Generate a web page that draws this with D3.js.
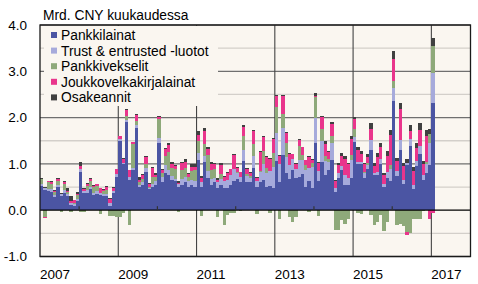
<!DOCTYPE html>
<html>
<head>
<meta charset="utf-8">
<script src="https://cdn.jsdelivr.net/npm/d3@7"></script>
<style>
  body { margin: 0; background: #fff; }
  svg text { font-family: "Liberation Sans", Arial, sans-serif; fill: #000; }
</style>
</head>
<body>
<div id="chart"></div>
<script>
// monthly data, Jan 2007 .. Jan 2017
const startYear = 2007;
const seriesNames = ["Pankkilainat", "Trust & entrusted -luotot", "Pankkivekselit", "Joukkovelkakirjalainat", "Osakeannit"];
const seriesColors = ["#4b55a3", "#a6aadb", "#8ea97a", "#e9358c", "#404040"];

const pankkilainat = [
  .53,.44,.42,.40,.28,.50,.30,.38,.30,.12,.10,.20,
  .82,.38,.38,.45,.33,.36,.32,.30,.30,.10,.38,.72,
  1.50,1.00,1.90,.66,.87,1.77,.50,.55,.83,.45,.51,.55,
  1.45,.60,.80,.77,.66,.62,.50,.55,.60,.50,.55,.50,
  1.09,.50,1.05,.70,.55,.60,.48,.55,.48,.47,.55,.64,
  .68,.60,1.06,.60,.60,.92,.50,.60,.65,.50,.52,.48,
  1.07,.60,1.20,.80,.67,.86,.70,.71,.79,.51,.62,.48,
  1.45,.64,1.05,.77,.87,1.08,.39,.70,.86,.55,.55,.70,
  1.47,1.00,1.00,.70,.88,1.30,.75,.75,1.00,.50,.70,.62,
  2.35,.73,1.31,.56,.98,1.38,.46,.95,1.22,.65,.80,.97,
  2.31
];
const trust = [
  .03,.04,.04,.05,.04,.05,.04,.06,.04,.04,.04,.05,
  .06,.04,.05,.05,.04,.05,.05,.04,.05,.05,.04,.06,
  .03,.03,.04,.05,.05,.08,.04,.05,.08,.04,.06,.08,
  .12,.12,.18,.10,.08,.06,.06,.12,.12,.12,.10,.12,
  .15,.10,.12,.15,.12,.10,.12,.12,.15,.18,.20,.25,
  .12,.12,.24,.14,.10,.25,.12,.22,.35,.30,.32,.45,
  .60,.40,.58,.35,.30,.25,.20,.38,.30,.35,.30,.45,
  .54,.20,.45,.30,.18,.38,.08,.10,.10,.20,.14,.38,
  .12,.05,.04,.10,.10,.22,.06,.08,.10,.06,.12,.26,
  .28,.12,.20,.10,.05,.15,.08,.12,.16,.10,.20,.48,
  .65
];
const pankkivekselit = [
  .12,-.14,.14,.12,.08,.08,-.04,.12,.06,-.03,.02,.08,
  -.03,-.03,.10,.12,.14,.12,-.08,.08,.08,-.12,-.12,-.15,
  -.15,-.05,.09,-.33,.50,.08,.06,.08,.08,.02,.14,.08,
  .40,.08,.20,.38,.18,.20,-.03,.20,.20,.10,.20,.24,
  .25,-.12,.25,.35,.20,.18,-.15,.12,-.32,-.10,-.05,-.05,
  .02,-.02,.30,.05,.03,.25,-.08,.02,.28,.12,-.05,.30,
  .55,-.18,.29,.30,-.15,-.25,-.15,.30,.10,.12,-.04,.10,
  .45,-.13,.26,.10,.05,.15,-.42,-.42,-.22,-.30,-.20,.12,
  .16,-.05,-.08,.03,.03,-.10,-.32,-.25,-.10,-.45,-.25,.10,
  .15,-.32,-.30,-.35,-.48,-.50,-.20,-.20,-.18,-.02,.05,.20,
  .59
];
const joukkovelkakirjat = [
  0,-.03,.02,.04,.02,.04,.02,.04,.02,.04,.05,.02,
  .08,.03,.03,.05,.02,.03,.10,.02,.07,.10,.06,.10,
  .07,.08,.14,.15,.05,.13,.06,.08,.16,.06,.20,.06,
  .05,.06,.14,.16,.08,.07,.03,.15,.13,.07,.08,.07,
  .14,.10,.28,.12,.12,.12,.05,.18,.08,.15,.13,.30,
  .10,.10,.20,.10,.08,.30,.08,.42,.30,.22,.26,.30,
  .25,.18,.40,.22,.24,.10,.10,.13,.17,.10,.22,.05,
  .03,.18,.25,.27,.15,.26,.16,.18,.20,.35,.30,.34,
  .22,.26,.18,.16,.14,.24,.14,.32,.27,.19,.35,.65,
  .48,.22,.68,.30,-.05,.18,.30,.28,.35,.25,.55,-.20,
  -.05
];
const osakeannit = [
  .01,.02,.00,.02,.02,.02,.02,.02,.05,.10,.02,.05,
  .08,.02,.02,.02,.02,.01,.02,.01,.02,.01,.02,.02,
  .01,.01,.01,.01,.01,.02,.05,.02,.01,.01,.02,.03,
  .02,.02,.02,.05,.05,.03,.05,.03,.05,.02,.07,.07,
  .07,.04,.07,.04,.06,.03,.04,.04,.03,.03,.02,.03,
  .02,.01,.03,.02,.02,.02,.01,.02,.02,.02,.02,.02,
  .02,.02,.02,.02,.02,.01,.01,.01,.01,.01,.02,.02,
  .07,.03,.02,.05,.03,.03,.03,.04,.07,.07,.03,.07,
  .04,.06,.05,.04,.06,.12,.08,.08,.08,.05,.10,.11,
  .17,.06,.13,.07,.08,.12,.10,.10,.15,.06,.14,.10,
  .16
];

const yTicks = [-1, 0, 1, 2, 3, 4];
const yMinor = [-0.5, 0.5, 1.5, 2.5, 3.5];
const xLabelYears = [2007, 2009, 2011, 2013, 2015, 2017];
const xGridYears = [2009, 2011, 2013, 2015, 2017];
const xTickYears = [2008, 2010, 2012, 2014, 2016];

const W = 478, H = 284;
const plotLeft = 40, plotRight = 470.5, plotTop = 25, plotBottom = 256.5;

const svg = d3.select("#chart").append("svg")
    .attr("width", W)
    .attr("height", H);

const x = d3.scaleLinear().domain([2007, 2018]).range([plotLeft, plotRight]);
const y = d3.scaleLinear().domain([-1, 4]).range([plotBottom, plotTop]);

// rows for the stack
const keys = ["b", "t", "v", "j", "o"];
const rows = pankkilainat.map((d, i) => ({
    t0: startYear + i / 12,
    b: d, t: trust[i], v: pankkivekselit[i], j: joukkovelkakirjat[i], o: osakeannit[i]
}));
const stacked = d3.stack().keys(keys).offset(d3.stackOffsetDiverging)(rows);

// plot background
svg.append("rect")
    .attr("x", plotLeft).attr("y", plotTop)
    .attr("width", plotRight - plotLeft).attr("height", plotBottom - plotTop)
    .style("fill", "#faf6f0");

// gridlines
svg.selectAll(".minor")
    .data(yMinor).enter().append("line")
    .attr("x1", plotLeft).attr("x2", plotRight)
    .attr("y1", d => y(d)).attr("y2", d => y(d))
    .style("stroke", "#d3cfca").style("stroke-width", 1.3);

svg.selectAll(".major")
    .data(yTicks.filter(d => d != 0)).enter().append("line")
    .attr("x1", plotLeft).attr("x2", plotRight)
    .attr("y1", d => y(d)).attr("y2", d => y(d))
    .style("stroke", "#6f6f6f").style("stroke-width", 1.3);

svg.selectAll(".vgrid")
    .data(xGridYears).enter().append("line")
    .attr("x1", d => x(d)).attr("x2", d => x(d))
    .attr("y1", plotTop).attr("y2", plotBottom)
    .style("stroke", "#444").style("stroke-width", 1.1);

// legend box hides the grid behind it
svg.append("rect")
    .attr("x", 44).attr("y", plotTop + 1)
    .attr("width", 174).attr("height", 80)
    .style("fill", "#faf6f0");

// bars
const layers = svg.append("g").selectAll("g")
    .data(stacked).enter().append("g")
    .style("fill", (d, i) => seriesColors[i]);

layers.selectAll("rect")
    .data(d => d).enter().append("rect")
    .attr("x", d => x(d.data.t0))
    .attr("width", d => x(d.data.t0 + 1 / 12) - x(d.data.t0))
    .attr("y", d => y(Math.max(d[0], d[1])))
    .attr("height", d => Math.abs(y(d[0]) - y(d[1])))
    .attr("shape-rendering", "crispEdges");

// zero line + small year ticks
svg.append("line")
    .attr("x1", plotLeft).attr("x2", plotRight)
    .attr("y1", y(0)).attr("y2", y(0))
    .style("stroke", "#000").style("stroke-width", 1.3);

svg.selectAll(".ytick")
    .data(xTickYears).enter().append("line")
    .attr("x1", d => x(d)).attr("x2", d => x(d))
    .attr("y1", y(0)).attr("y2", y(0) - 4)
    .style("stroke", "#333").style("stroke-width", 1.2);

// frame
svg.append("rect")
    .attr("x", plotLeft).attr("y", plotTop)
    .attr("width", plotRight - plotLeft).attr("height", plotBottom - plotTop)
    .style("fill", "none").style("stroke", "#1a1a1a").style("stroke-width", 1.3);

// axis labels
svg.selectAll(".ylab")
    .data(yTicks).enter().append("text")
    .attr("x", 27).attr("y", d => y(d))
    .attr("dy", "0.35em")
    .attr("text-anchor", "end")
    .style("font-size", "13.5px")
    .text(d => d.toFixed(1));

svg.selectAll(".xlab")
    .data(xLabelYears).enter().append("text")
    .attr("x", d => x(d)).attr("y", 278.5)
    .style("font-size", "13.5px")
    .text(d => d);

svg.append("text")
    .attr("x", 43).attr("y", 20)
    .style("font-size", "13.8px")
    .text("Mrd. CNY kuukaudessa");

// legend
const leg = svg.append("g").selectAll("g")
    .data(seriesNames).enter().append("g")
    .attr("transform", (d, i) => `translate(51,${35 + i * 15.6})`);

leg.append("rect")
    .attr("x", 0).attr("y", -3)
    .attr("width", 6).attr("height", 6)
    .style("fill", (d, i) => seriesColors[i]);

leg.append("text")
    .attr("x", 10).attr("dy", "0.36em")
    .style("font-size", "13.8px")
    .text(d => d);
</script>
</body>
</html>
